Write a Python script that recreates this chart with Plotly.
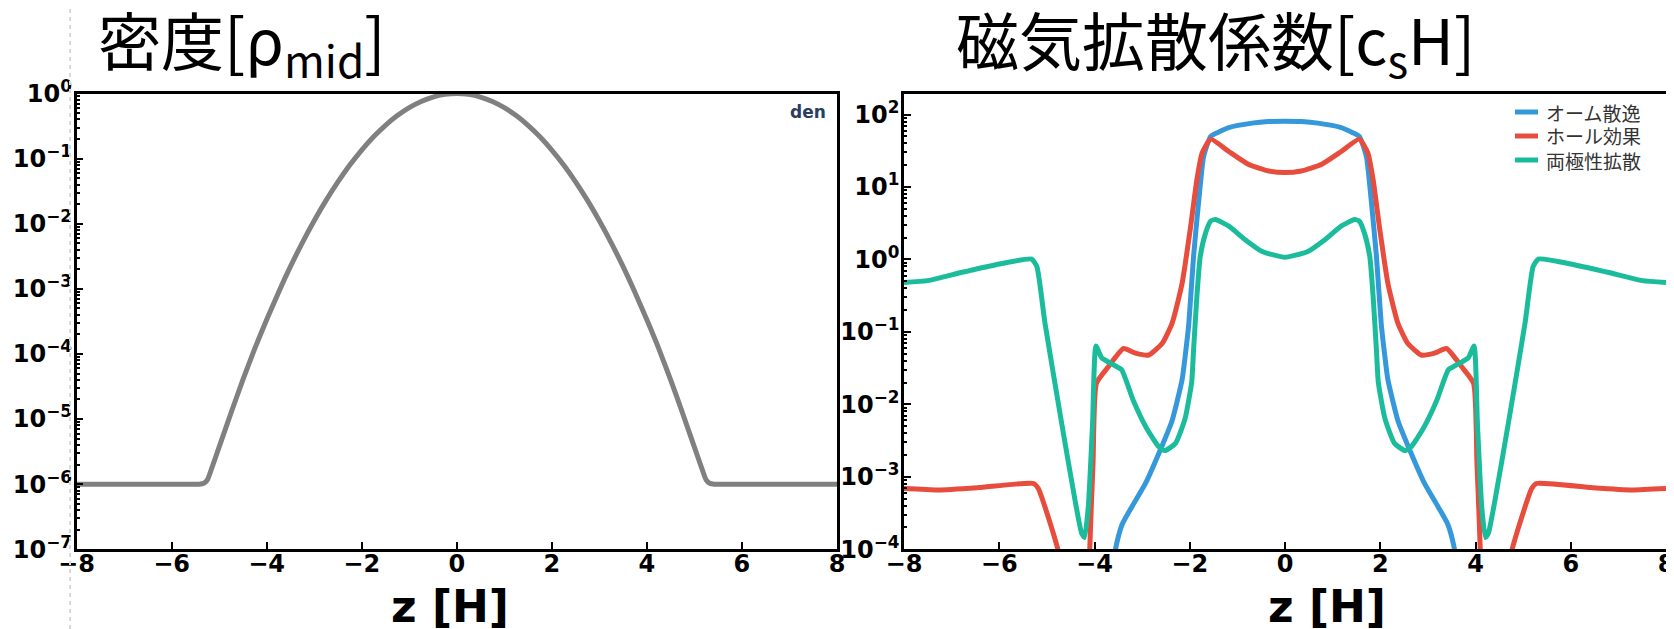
import plotly.graph_objects as go

# ---------------- data ----------------
z_den = [-8, -6.5, -5.6, -5.42, -5.32, -5.25, -5.15, -5.0, -4.75, -4.5, -4.25, -4.0, -3.75, -3.5,
         -3.25, -3.0, -2.75, -2.5, -2.25, -2.0, -1.75, -1.5, -1.25, -1.0, -0.75, -0.5, -0.25, 0.0,
         0.25, 0.5, 0.75, 1.0, 1.25, 1.5, 1.75, 2.0, 2.25, 2.5, 2.75, 3.0, 3.25, 3.5,
         3.75, 4.0, 4.25, 4.5, 4.75, 5.0, 5.15, 5.25, 5.32, 5.42, 5.6, 6.5, 8]
rho = [1e-6, 1e-6, 1e-6, 1e-6, 1.03e-6, 1.15e-6, 1.8e-6, 3.7e-6, 1.24e-5, 4.0e-5, 1.21e-4,
       3.35e-4, 8.8e-4, 2.19e-3, 5.08e-3, 0.0111, 0.0228, 0.0439, 0.0796, 0.1353, 0.2163, 0.3247,
       0.4578, 0.6065, 0.7548, 0.8825, 0.969, 1.0,
       0.969, 0.8825, 0.7548, 0.6065, 0.4578, 0.3247, 0.2163, 0.1353, 0.0796, 0.0439, 0.0228,
       0.0111, 5.08e-3, 2.19e-3, 8.8e-4, 3.35e-4, 1.21e-4, 4.0e-5, 1.24e-5, 3.7e-6, 1.8e-6,
       1.15e-6, 1.03e-6, 1e-6, 1e-6, 1e-6, 1e-6]

z_ohm = [-3.75, -3.56, -3.42, -3.21, -2.93, -2.65, -2.37, -2.16, -2.09, -2.02, -1.92, -1.81,
         -1.71, -1.56, -1.4, -1.18, -0.69, -0.35, 0.0, 0.35, 0.69, 1.18, 1.4, 1.56, 1.71, 1.81,
         1.92, 2.02, 2.09, 2.16, 2.37, 2.65, 2.93, 3.21, 3.42, 3.56, 3.75]
eta_ohm = [1.3e-5, 1.0e-4, 2.2e-4, 3.9e-4, 8.1e-4, 2.1e-3, 6.0e-3, 0.022, 0.050, 0.13, 1.1, 6.6,
           26, 50, 57, 66, 76, 80, 81, 80, 76, 66, 57, 50, 26, 6.6,
           1.1, 0.13, 0.050, 0.022, 6.0e-3, 2.1e-3, 8.1e-4, 3.9e-4, 2.2e-4, 1.0e-4, 1.3e-5]

z_hall = [-8, -7.28, -6.44, -5.28, -5.18, -4.77, -4.5, -4.12, -4.10, -4.03, -3.96, -3.71, -3.39,
          -3.14, -2.86, -2.58, -2.37, -2.16, -1.99, -1.85, -1.74, -1.56, -1.18, -0.76, -0.34, 0.0,
          0.34, 0.76, 1.18, 1.56, 1.74, 1.85, 1.99, 2.16, 2.37, 2.58, 2.86, 3.14, 3.39, 3.71, 3.96,
          4.03, 4.10, 4.12, 4.5, 4.77, 5.18, 5.28, 6.44, 7.28, 8]
eta_hall = [6.9e-4, 6.6e-4, 7.1e-4, 8.1e-4, 6.9e-4, 1.0e-4, 1.0e-5, 1.0e-5, 1.0e-4, 1.6e-3, 0.0195,
            0.033, 0.059, 0.051, 0.048, 0.069, 0.132, 0.47, 2.6, 12.6, 29.5, 45.7, 30.9, 20.4, 16.6,
            15.8,
            16.6, 20.4, 30.9, 45.7, 29.5, 12.6, 2.6, 0.47, 0.132, 0.069, 0.048, 0.051, 0.059, 0.033,
            0.0195, 1.6e-3, 1.0e-4, 1.0e-5, 1.0e-5, 1.0e-4, 6.9e-4, 8.1e-4, 7.1e-4, 6.6e-4, 6.9e-4]

z_amb = [-8, -7.5, -6.8, -6.09, -5.32, -5.21, -5.04, -4.69, -4.41, -4.27, -4.21, -4.13, -4.04,
         -3.97, -3.85, -3.6, -3.43, -3.19, -2.9, -2.65, -2.52, -2.3, -2.1, -1.96, -1.92, -1.85,
         -1.78, -1.67, -1.56, -1.46, -1.18, -0.83, -0.48, 0.0,
         0.48, 0.83, 1.18, 1.46, 1.56, 1.67, 1.78, 1.85, 1.92, 1.96, 2.1, 2.3, 2.52, 2.65, 2.9,
         3.19, 3.43, 3.6, 3.85, 3.97, 4.04, 4.13, 4.21, 4.27, 4.41, 4.69, 5.04, 5.21, 5.32, 6.09,
         6.8, 7.5, 8]
eta_amb = [0.48, 0.51, 0.66, 0.84, 1.01, 0.80, 0.132, 5.5e-3, 4.8e-4, 1.66e-4, 1.45e-4, 3.9e-4,
           5.5e-3, 0.064, 0.044, 0.035, 0.030, 0.0115, 4.6e-3, 2.6e-3, 2.3e-3, 2.9e-3, 6.3e-3,
           0.02, 0.056, 0.31, 1.10, 2.29, 3.39, 3.55, 2.88, 1.86, 1.29, 1.07,
           1.29, 1.86, 2.88, 3.55, 3.39, 2.29, 1.10, 0.31, 0.056, 0.02, 6.3e-3, 2.9e-3, 2.3e-3,
           2.6e-3, 4.6e-3, 0.0115, 0.030, 0.035, 0.044, 0.064, 5.5e-3, 3.9e-4, 1.45e-4, 1.66e-4,
           4.8e-4, 5.5e-3, 0.132, 0.80, 1.01, 0.84, 0.66, 0.51, 0.48]

x_ticks = [-8, -6, -4, -2, 0, 2, 4, 6, 8]
left_tickvals = [1e-7, 1e-6, 1e-5, 1e-4, 1e-3, 1e-2, 1e-1, 1e0]
left_ticktext = ["10<sup>−7</sup>", "10<sup>−6</sup>", "10<sup>−5</sup>", "10<sup>−4</sup>",
                 "10<sup>−3</sup>", "10<sup>−2</sup>", "10<sup>−1</sup>", "10<sup>0</sup>"]
right_tickvals = [1e-4, 1e-3, 1e-2, 1e-1, 1e0, 1e1, 1e2]
right_ticktext = ["10<sup>−4</sup>", "10<sup>−3</sup>", "10<sup>−2</sup>", "10<sup>−1</sup>",
                  "10<sup>0</sup>", "10<sup>1</sup>", "10<sup>2</sup>"]

names = ["オーム散逸", "ホール効果", "両極性拡散"]
colors = ["#3498db", "#e74c3c", "#1abc9c"]

minor_left = [m * 10.0 ** e for e in range(-7, 0) for m in range(2, 10)]
minor_right = [m * 10.0 ** e for e in range(-4, 3) for m in range(2, 10)]

# ---------------- figure ----------------
W, H = 1674, 629
OFF = 8  # the page body margin shifts the figure by this many px


def px(x):
    return (x - OFF) / W


def py(y):
    return 1 - (y - OFF) / H


LW = 5
fig = go.Figure()
fig.add_trace(go.Scatter(x=z_den, y=rho, mode="lines",
                         line=dict(color="#808080", width=LW, shape="spline", smoothing=0.6),
                         showlegend=False, xaxis="x", yaxis="y"))
for zz, vv, nm, c in [(z_ohm, eta_ohm, names[0], colors[0]),
                      (z_hall, eta_hall, names[1], colors[1]),
                      (z_amb, eta_amb, names[2], colors[2])]:
    fig.add_trace(go.Scatter(x=zz, y=vv, mode="lines", name=nm, showlegend=False,
                             line=dict(color=c, width=LW, shape="spline", smoothing=0.5),
                             xaxis="x2", yaxis="y2"))

tickfont = dict(family="DejaVu Sans", size=24, color="black", weight="bold")
xcommon = dict(range=[-8, 8], tickmode="array", tickvals=x_ticks, ticks="inside", ticklen=8,
               tickwidth=2, tickcolor="black", showline=True, linewidth=2.5, linecolor="black",
               mirror=True, showgrid=False, zeroline=False, tickfont=tickfont, automargin=False,
               ticklabelstandoff=-9)
ycommon = dict(type="log", tickmode="array", ticks="inside", ticklen=7, tickwidth=2,
               tickcolor="black", showline=True, linewidth=2.5, linecolor="black", mirror=True,
               showgrid=False, zeroline=False, tickfont=tickfont, automargin=False,
               ticklabelstandoff=-3)

ydom = [py(549.3), py(93.5)]
fig.update_layout(
    width=W, height=H, margin=dict(l=0, r=0, t=0, b=0, autoexpand=False),
    paper_bgcolor="white", plot_bgcolor="white", showlegend=False,
    xaxis=dict(domain=[px(76.5), px(837)], anchor="y", **xcommon),
    yaxis=dict(domain=ydom, anchor="x", range=[-7, 0], tickvals=left_tickvals,
               ticktext=left_ticktext,
               minor=dict(tickmode="array", tickvals=minor_left, ticks="inside", ticklen=3.5,
                          tickwidth=1.5, tickcolor="black", showgrid=False), **ycommon),
    xaxis2=dict(domain=[px(904), px(1666)], anchor="y2", **xcommon),
    yaxis2=dict(domain=ydom, anchor="x2", range=[-4, 2.29], tickvals=right_tickvals,
                ticktext=right_ticktext,
                minor=dict(tickmode="array", tickvals=minor_right, ticks="inside", ticklen=3.5,
                           tickwidth=1.5, tickcolor="black", showgrid=False), **ycommon),
)

# legend (line sample + label) for the right panel
leg_rows = [112, 136, 160]
for nm, c, yy in zip(names, colors, leg_rows):
    fig.add_shape(type="line", xref="paper", yref="paper", x0=px(1515), x1=px(1538),
                  y0=py(yy), y1=py(yy), line=dict(color=c, width=5))
    fig.add_annotation(text=nm, x=px(1545), y=py(yy), xref="paper", yref="paper",
                       xanchor="left", yanchor="middle", showarrow=False, borderpad=0,
                       font=dict(family="Noto Sans CJK JP", size=19, color="#333333"))

ann_font = dict(family="Noto Sans CJK JP", size=63, color="black")
fig.add_annotation(text="密度[ρ<sub>mid</sub>]", x=px(96), y=py(41.5), xref="paper",
                   yref="paper", xanchor="left", yanchor="middle", showarrow=False, font=ann_font)
fig.add_annotation(text="磁気拡散係数[c<sub>s</sub>H]", x=px(953.5), y=py(41.5), xref="paper",
                   yref="paper", xanchor="left", yanchor="middle", showarrow=False, font=ann_font)
xt_font = dict(family="DejaVu Sans", size=44, color="black", weight="bold")
fig.add_annotation(text="z [H]", x=px(450), y=py(606), xref="paper",
                   yref="paper", xanchor="center", yanchor="middle", showarrow=False, font=xt_font)
fig.add_annotation(text="z [H]", x=px(1327), y=py(606), xref="paper",
                   yref="paper", xanchor="center", yanchor="middle", showarrow=False, font=xt_font)
fig.add_annotation(text="den", x=px(828), y=py(112), xref="paper", yref="paper",
                   xanchor="right", yanchor="middle", showarrow=False,
                   font=dict(family="DejaVu Sans", size=17, color="#2a3f5f", weight="bold"))
fig.add_shape(type="line", xref="paper", yref="paper", x0=px(70), x1=px(70), y0=0, y1=1,
              line=dict(color="#d8d8d8", width=2, dash="4px,4px"))

fig.write_html("out.html")
